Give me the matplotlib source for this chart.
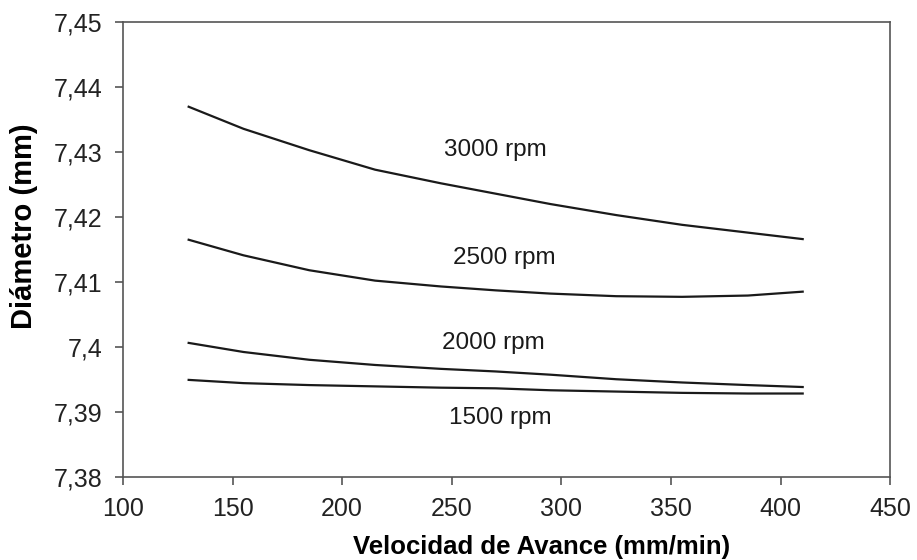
import matplotlib.pyplot as plt
import numpy as np
from matplotlib.ticker import FuncFormatter

plt.rcParams['font.family'] = ['Liberation Sans', 'DejaVu Sans']

# Velocidad de avance (mm/min)
x_vals = [130, 155, 185, 215, 245, 270, 295, 325, 355, 385, 410]

# Diametro (mm) por velocidad de giro
d_3000 = [7.4370, 7.4336, 7.4303, 7.4273, 7.4252, 7.4236, 7.4220, 7.4203, 7.4188, 7.4176, 7.4166]
d_2500 = [7.4165, 7.4141, 7.4118, 7.4102, 7.4093, 7.4087, 7.4082, 7.4078, 7.4077, 7.4079, 7.4085]
d_2000 = [7.4006, 7.3992, 7.3980, 7.3972, 7.3966, 7.3962, 7.3957, 7.3950, 7.3945, 7.3941, 7.3938]
d_1500 = [7.3949, 7.3944, 7.3941, 7.3939, 7.3937, 7.3936, 7.3933, 7.3931, 7.3929, 7.3928, 7.3928]

series = [d_3000, d_2500, d_2000, d_1500]
labels = ['3000 rpm', '2500 rpm', '2000 rpm', '1500 rpm']
label_x = [270, 274, 269, 272]
label_y = [7.4303, 7.4137, 7.4006, 7.3890]

fig = plt.figure(figsize=(9.17, 5.6), dpi=100)
ax = fig.add_axes([0.134, 0.149, 0.837, 0.811])

for ys in series:
    ax.plot(x_vals, ys, color='#1a1a1a', linewidth=1.6)

for txt, lx, ly in zip(labels, label_x, label_y):
    ax.text(lx, ly, txt, fontsize=17.5, ha='center', va='center', color='#1a1a1a')

ax.set_xlim(100, 450)
ax.set_ylim(7.38, 7.45)
ax.set_xticks(np.arange(100, 451, 50))
ax.set_yticks([7.38, 7.39, 7.40, 7.41, 7.42, 7.43, 7.44, 7.45])
ax.yaxis.set_major_formatter(FuncFormatter(lambda v, p: ('%g' % round(v, 2)).replace('.', ',')))

# ejes y marcas
for s in ax.spines.values():
    s.set_color('#555555')
    s.set_linewidth(1.2)
ax.tick_params(direction='out', length=6, width=1.2, color='#555555',
               labelsize=18, labelcolor='#222222', pad=9)

ax.set_xlabel('Velocidad de Avance (mm/min)', fontsize=18.5, fontweight='bold', va='center')
ax.set_ylabel('Diámetro (mm)', fontsize=21, fontweight='bold', va='center')
ax.xaxis.set_label_coords(0.545, -0.155)
ax.yaxis.set_label_coords(-0.129, 0.552)

fig.savefig('out.png', dpi=100)
